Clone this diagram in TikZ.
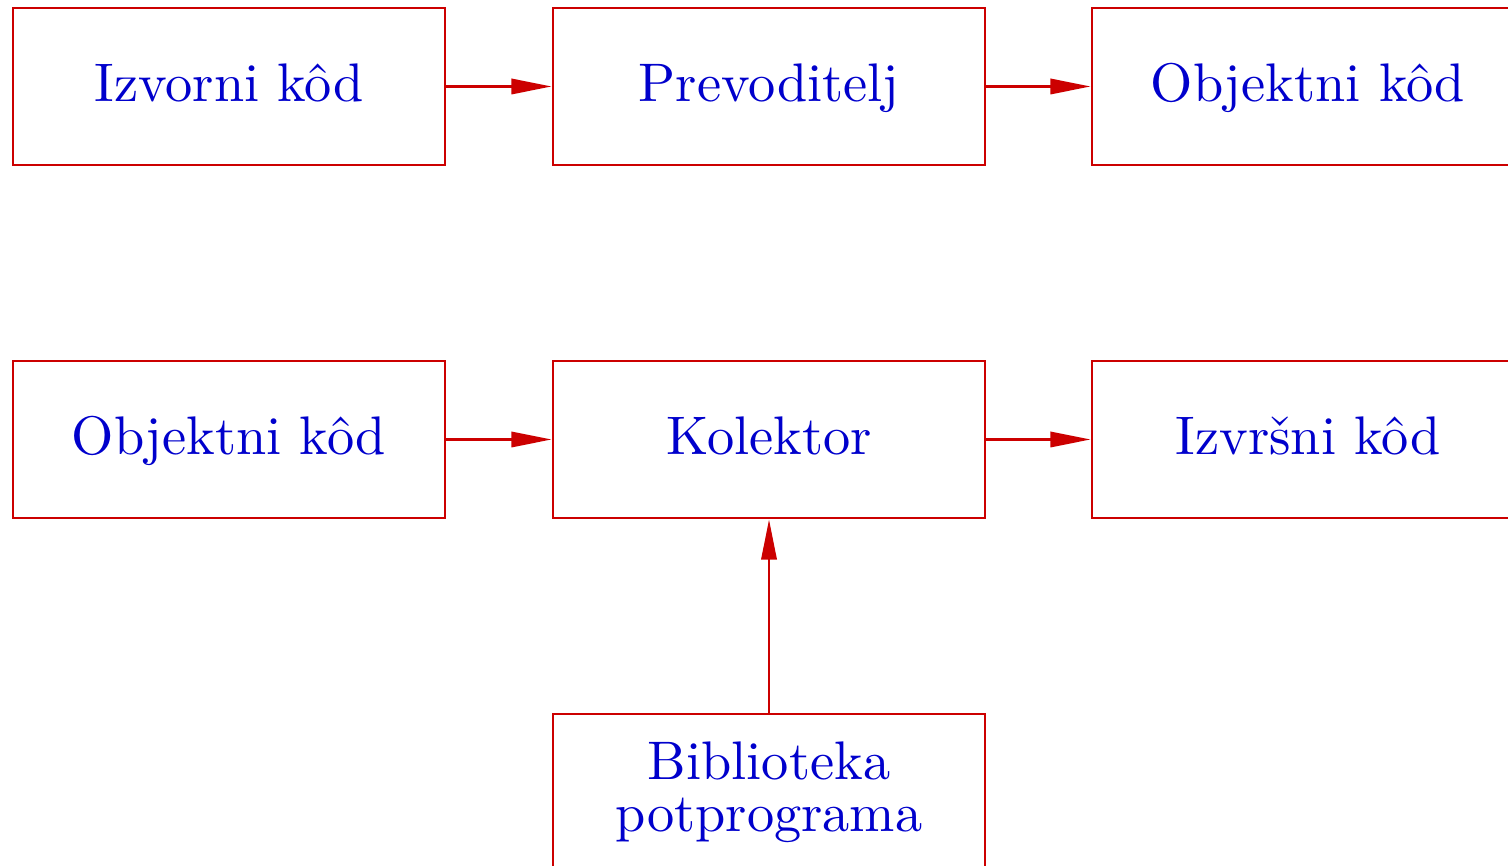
\documentclass[tikz,border=0pt]{standalone}
\usetikzlibrary{arrows.meta}
\definecolor{boxred}{RGB}{204,0,0}
\definecolor{txtblue}{RGB}{0,0,204}
\begin{document}
\begin{tikzpicture}[x=0.184pt,y=-0.184pt,
  blk/.style={draw=boxred,line width=0.5pt,minimum width=79.5pt,minimum height=28.9pt,
    inner sep=0pt,text=txtblue,align=center,font=\fontsize{10}{9.6}\selectfont},
  one/.style={text height=7.2pt,text depth=1.8pt},
  conn/.style={draw=boxred,line width=0.5pt,-{Triangle[length=7.4pt,width=2.8pt]}}]
\useasboundingbox (0,0) rectangle (1508,866);
\clip (0,0) rectangle (1508,866);
\node[blk,one] (src) at (229,86.5) {Izvorni kôd};
\node[blk,one] (comp) at (769,86.5) {Prevoditelj};
\node[blk,one] (obj1) at (1308,86.5) {Objektni kôd};
\node[blk,one] (obj2) at (229,439.5) {Objektni kôd};
\node[blk,one] (link) at (769,439.5) {Kolektor};
\node[blk,one] (exe) at (1308,439.5) {Izvršni kôd};
\node[blk] (lib) at (769,792.5) {Biblioteka\\potprograma};
\draw[conn] (src) -- (comp);
\draw[conn] (comp) -- (obj1);
\draw[conn] (obj2) -- (link);
\draw[conn] (link) -- (exe);
\draw[conn] (lib) -- (link);
\end{tikzpicture}
\end{document}
